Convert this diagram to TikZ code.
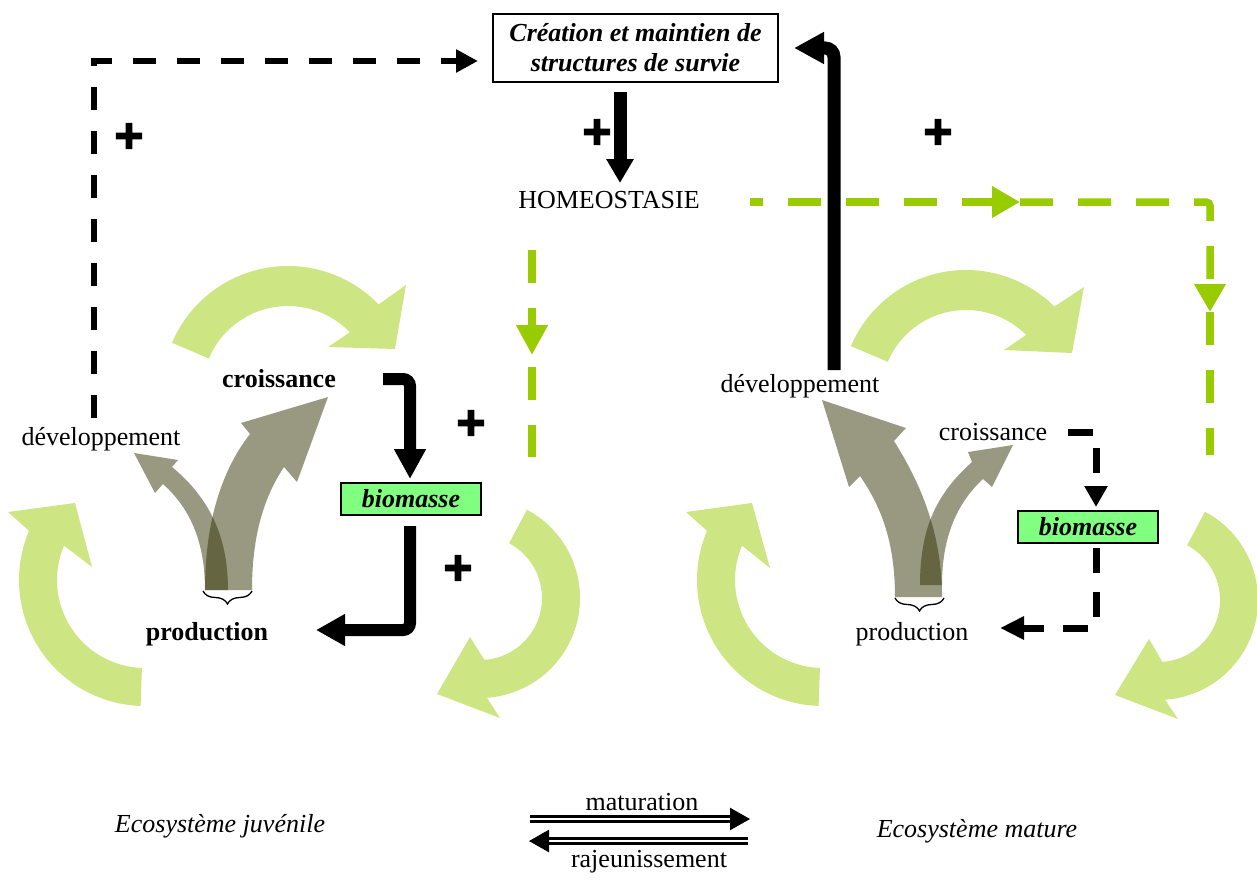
\documentclass[tikz,border=0pt]{standalone}
\usepackage{fontspec}
\setmainfont{Liberation Serif}
\newfontfamily\plusfont[FakeBold=6]{DejaVu Sans Bold}
\usetikzlibrary{arrows.meta,decorations.pathreplacing,calc}
\definecolor{cyc}{RGB}{206,229,132}
\definecolor{lime}{RGB}{153,204,0}
\definecolor{olivedark}{RGB}{47,47,0}
\definecolor{biogreen}{RGB}{128,255,128}
\newcommand\cycarrow[8]{\fill[cycfill] ([shift={(#4:#3)}]#1) arc[start angle=#4,end angle=#5,radius=#3] -- #6 -- #7 -- #8 -- ([shift={(#5:#2)}]#1) arc[start angle=#5,end angle=#4,radius=#2] -- cycle;}
\begin{document}
\begin{tikzpicture}[x=1pt,y=-1pt,font=\fontsize{26}{30}\selectfont,
  cycfill/.style={fill=cyc},
  fork/.style={fill=olivedark,fill opacity=0.49},
  lbl/.style={inner sep=0pt,anchor=base},
  blk/.style={line width=13pt},
  bdash/.style={line width=5.5pt,dash pattern=on 23pt off 21pt},
  rdash/.style={line width=7pt,dash pattern=on 25pt off 19pt},
  gdash/.style={draw=lime,line width=7.5pt,dash pattern=on 33pt off 25pt},
  dbl/.style={double,line width=2.5pt,double distance=2.5pt},
  plussign/.style={font=\plusfont\fontsize{38}{38}\selectfont,inner sep=0pt},
  biobox/.style={draw,line width=2pt,fill=biogreen,minimum width=140pt,minimum height=32pt,inner sep=0pt,font=\fontsize{26}{30}\selectfont\bfseries\itshape},
  bigtip/.style={-{Triangle[length=#1,width=30pt]}},
  brc/.style={decorate,decoration={brace,amplitude=13pt,mirror,aspect=0.5},line width=1.3pt}
]
\useasboundingbox (0,0) rectangle (1257,880);

% cycle arrows
\coordinate (cL1) at (288,392);
\cycarrow{cL1}{86}{126}{203}{316}{(406,285)}{(395,349)}{(328,347)}
\coordinate (cL2) at (145,580);
\cycarrow{cL2}{88}{126}{92}{203}{(8,512)}{(75,503)}{(92,567)}
\coordinate (cL3) at (480,598);
\cycarrow{cL3}{62}{100}{298}{446}{(500,718)}{(437,694)}{(470,637)}
\coordinate (cR1) at (966,395);
\cycarrow{cR1}{85}{125}{203}{315}{(1084,287)}{(1072,353)}{(1004,350)}
\coordinate (cR2) at (823,580);
\cycarrow{cR2}{88}{126}{92}{203}{(686,512)}{(752,503)}{(770,568)}
\coordinate (cR3) at (1158,600);
\cycarrow{cR3}{62}{100}{298}{446}{(1178,719)}{(1115,695)}{(1149,639)}

% fork arrows
\fill[fork] (205,590) .. controls (205,530) and (218,475) .. (250,434) -- (241,423) -- (328,397) -- (297,482) -- (284,467) .. controls (262,500) and (252,540) .. (252,590) -- cycle;
\fill[fork] (228,590) .. controls (228,540) and (212,500) .. (172,467) -- (178,460) -- (134,453) -- (155,493) -- (163,484) .. controls (192,510) and (205,545) .. (205,590) -- cycle;
\fill[fork] (895,597) .. controls (895,540) and (880,505) .. (860,476) -- (849,487) -- (822,400) -- (906,428) -- (894,441) .. controls (925,490) and (942,540) .. (942,597) -- cycle;
\fill[fork] (920,585) .. controls (920,530) and (935,495) .. (972,462) -- (968,452) -- (1013,445) -- (992,487) -- (983,479) .. controls (955,505) and (942,540) .. (942,585) -- cycle;

% braces
\coordinate (brLa) at (203,591); \coordinate (brLb) at (252,591);
\coordinate (brRa) at (895,598); \coordinate (brRb) at (944,598);
\draw[brc] (brLa) -- (brLb);
\draw[brc] (brRa) -- (brRb);

% text nodes
\node[draw,line width=1.5pt,fill=white,minimum width=285pt,minimum height=68pt,inner sep=0pt,align=center,font=\fontsize{26}{30}\selectfont\bfseries\itshape] (crea) at (635.5,48) {Création et maintien de\\structures de survie};
\node[lbl] (homeo) at (609,208) {HOMEOSTASIE};
\node[lbl] (crL) at (279,387) {\bfseries croissance};
\node[lbl] (devL) at (101,445) {développement};
\node[lbl] (prodL) at (207,640) {\bfseries production};
\node[biobox] (bioL) at (411,499) {biomasse};
\node[lbl] (devR) at (800,392) {développement};
\node[lbl] (crR) at (993,440) {croissance};
\node[lbl] (prodR) at (912,640) {production};
\node[biobox] (bioR) at (1088,527) {biomasse};
\node[lbl] (ecoJ) at (220,832) {\itshape Ecosystème juvénile};
\node[lbl] (ecoM) at (977,837) {\itshape Ecosystème mature};
\node[lbl] (matL) at (642,810) {maturation};
\node[lbl] (rajL) at (649,867) {rajeunissement};

% green dashed lines
\coordinate (gL1) at (532,250); \coordinate (gL2) at (532,355); \coordinate (gL3) at (532,367); \coordinate (gL4) at (532,457);
\draw[gdash,-{Triangle[length=30pt,width=30pt]}] (gL1) -- (gL2);
\draw[gdash] (gL3) -- (gL4);
\coordinate (gR1) at (750,202); \coordinate (gR2) at (1020,202); \coordinate (gR3) at (1210,202);
\coordinate (gR4) at (1210,312); \coordinate (gR5) at (1210,455);
\draw[gdash,dash phase=20pt,-{Triangle[length=28pt,width=30pt]}] (gR1) -- (gR2);
\draw[gdash,rounded corners=4pt,-{Triangle[length=28pt,width=30pt]}] (gR2) -- (gR3) -- (gR4);
\draw[gdash] (gR4) -- (gR5);

% black connectors
\coordinate (dvTop) at (94,418); \coordinate (dvCorner) at (94,61); \coordinate (dvEnd) at (478,61);
\draw[bdash,-{Triangle[length=22pt,width=22pt]}] (dvTop) -- (dvCorner) -- (dvEnd);
\coordinate (hA) at (620,92); \coordinate (hB) at (620,183);
\draw[blk,-{Triangle[length=24pt,width=26pt]}] (hA) -- (hB);
\coordinate (dR1) at (834,370); \coordinate (dR2) at (834,48); \coordinate (dR3) at (794,48);
\draw[blk,rounded corners=9pt,bigtip=30pt] (dR1) -- (dR2) -- (dR3);
\coordinate (cbL1) at (383,379); \coordinate (cbL2) at (410,379); \coordinate (cbL3) at (410,479);
\draw[line width=12pt,rounded corners=7pt,bigtip=30pt] (cbL1) -- (cbL2) -- (cbL3);
\coordinate (bpL1) at (410,526); \coordinate (bpL2) at (410,630); \coordinate (bpL3) at (316,630);
\draw[line width=12pt,rounded corners=7pt,bigtip=29pt] (bpL1) -- (bpL2) -- (bpL3);
\coordinate (cbR1) at (1068,432); \coordinate (cbR2) at (1096,432); \coordinate (cbR3) at (1096,507);
\draw[rdash,-{Triangle[length=21pt,width=22pt]}] (cbR1) -- (cbR2) -- (cbR3);
\coordinate (bpR1) at (1096,548); \coordinate (bpR2) at (1096,628); \coordinate (bpR3) at (1000,628);
\draw[rdash,-{Triangle[length=24pt,width=22pt]}] (bpR1) -- (bpR2) -- (bpR3);

% maturation arrows
\coordinate (mA) at (530,819); \coordinate (mB) at (750,819);
\coordinate (rA) at (748,841); \coordinate (rB) at (529,841);
\draw[dbl,-{Triangle[length=20pt,width=22pt]}] (mA) -- (mB);
\draw[dbl,-{Triangle[length=20pt,width=22pt]}] (rA) -- (rB);

% plus signs
\node[plussign] (p1) at (129,136) {+};
\node[plussign] (p2) at (597,132) {+};
\node[plussign] (p3) at (938,132) {+};
\node[plussign] (p4) at (471,423) {+};
\node[plussign] (p5) at (458,568) {+};
\end{tikzpicture}
\end{document}
